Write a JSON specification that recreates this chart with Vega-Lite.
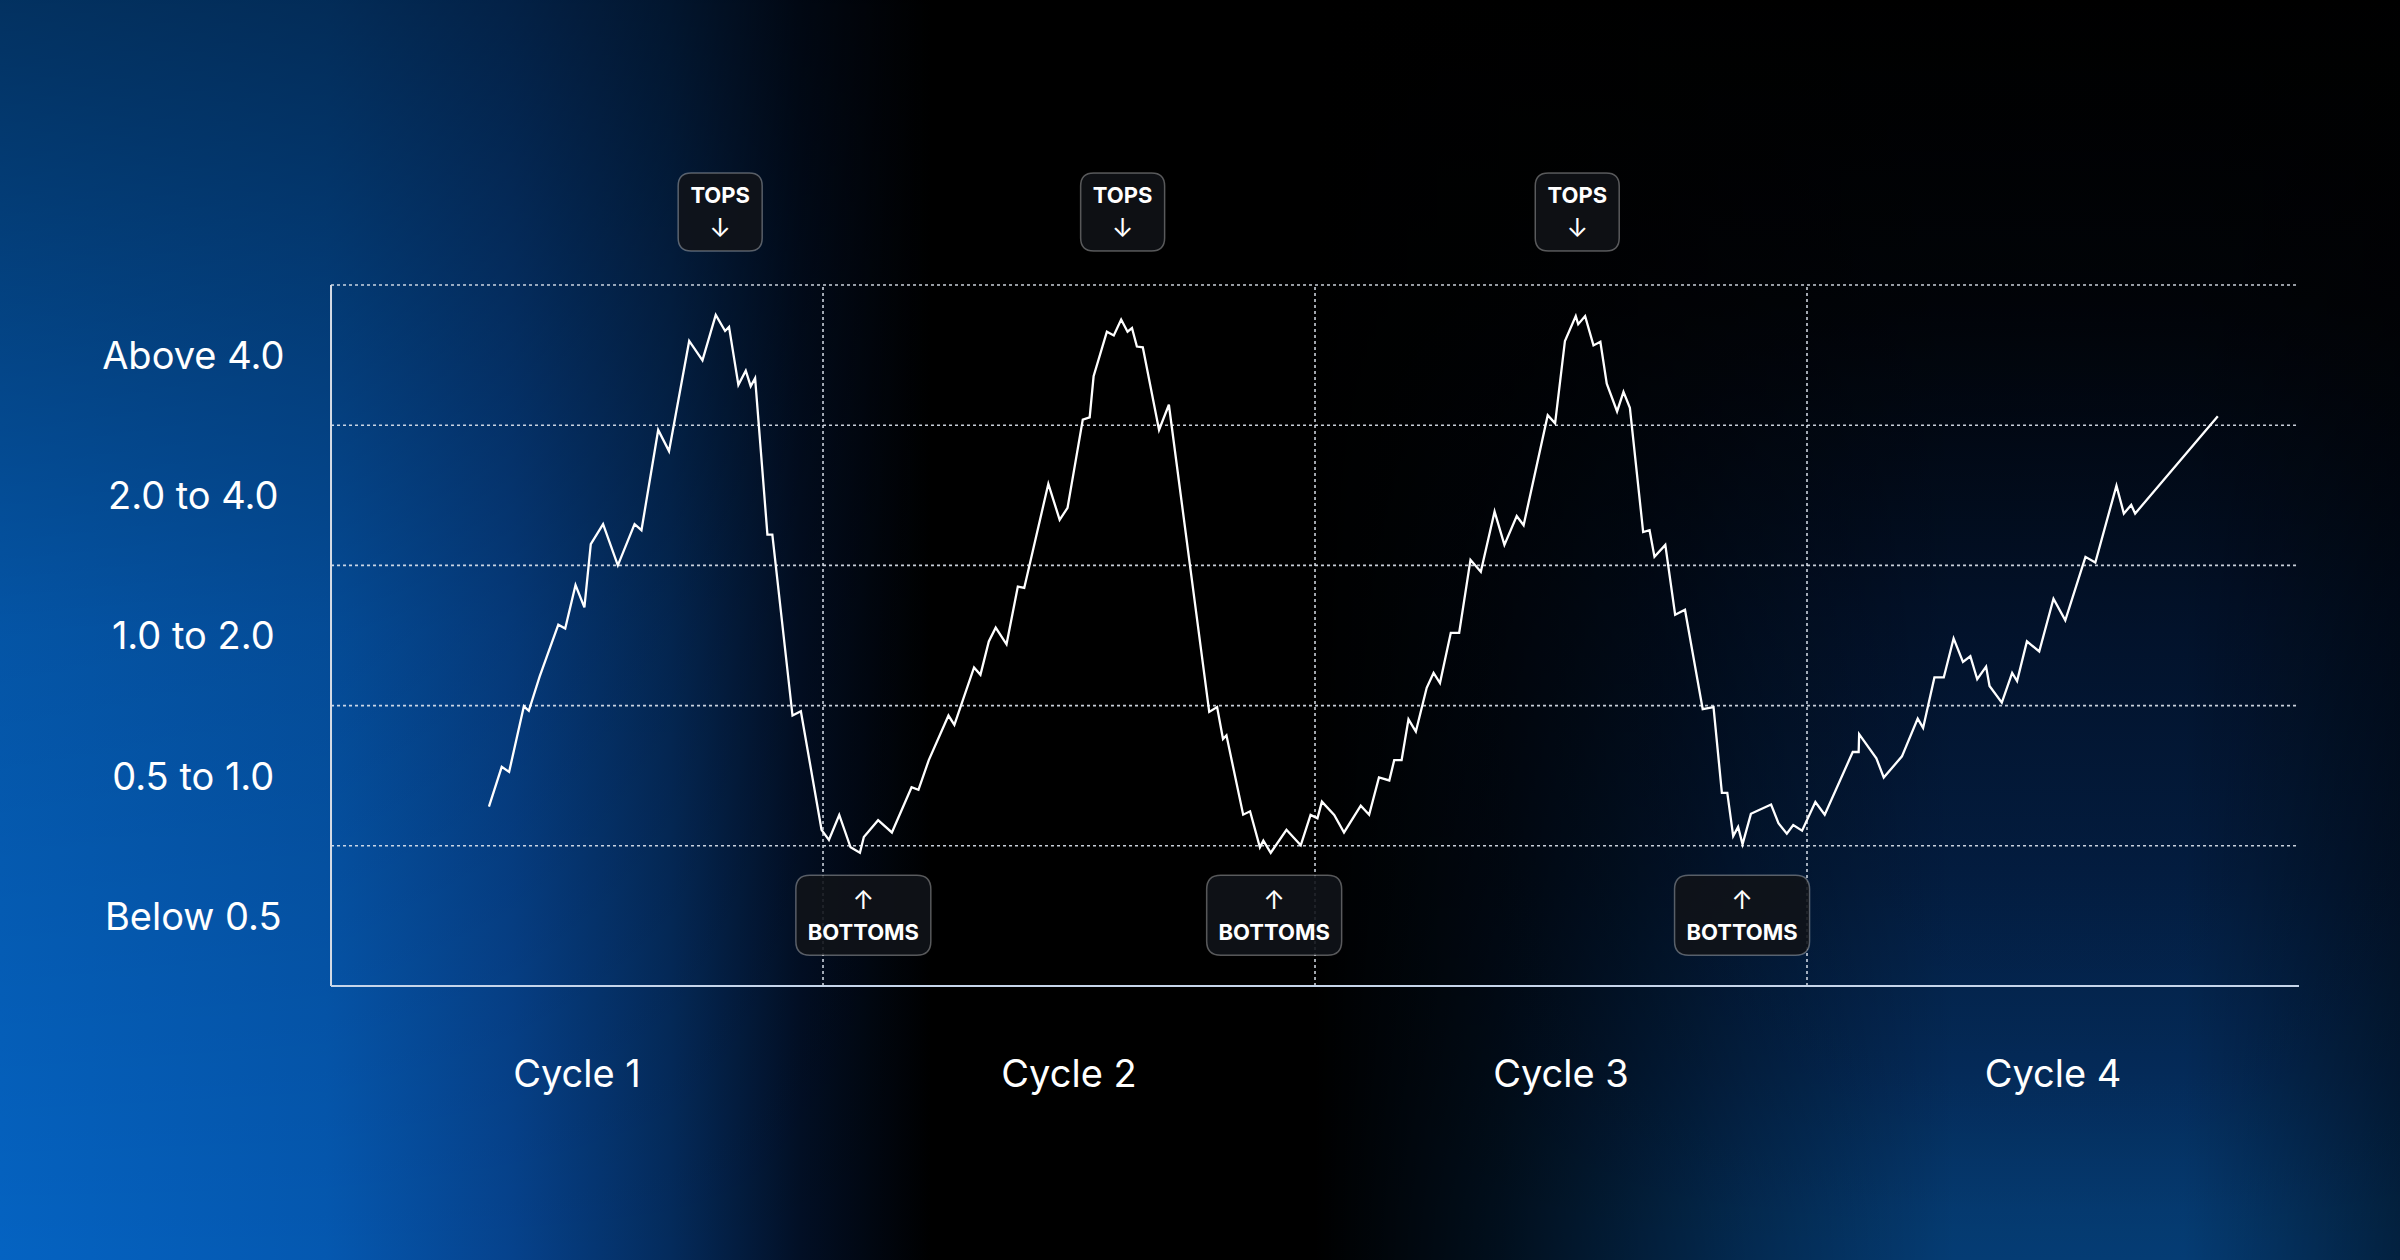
{
  "$schema": "https://vega.github.io/schema/vega-lite/v6.json",
  "width": 2400,
  "height": 1260,
  "autosize": {"type": "fit", "contains": "padding"},
  "padding": 0,
  "background": "#000000",
  "datasets": {
    "one": [{"id": 1}],
    "line": [
      {"x": 0.321, "y": 1.280}, {"x": 0.347, "y": 1.563}, {"x": 0.362, "y": 1.527}, {"x": 0.392, "y": 1.995},
      {"x": 0.402, "y": 1.963}, {"x": 0.424, "y": 2.206}, {"x": 0.428, "y": 2.246}, {"x": 0.462, "y": 2.577},
      {"x": 0.476, "y": 2.550}, {"x": 0.497, "y": 2.860}, {"x": 0.515, "y": 2.701}, {"x": 0.528, "y": 3.151},
      {"x": 0.553, "y": 3.294}, {"x": 0.583, "y": 3.000}, {"x": 0.617, "y": 3.294}, {"x": 0.631, "y": 3.251},
      {"x": 0.665, "y": 3.966}, {"x": 0.687, "y": 3.815}, {"x": 0.728, "y": 4.601}, {"x": 0.755, "y": 4.463},
      {"x": 0.782, "y": 4.786}, {"x": 0.801, "y": 4.672}, {"x": 0.809, "y": 4.701}, {"x": 0.828, "y": 4.288},
      {"x": 0.843, "y": 4.389}, {"x": 0.853, "y": 4.278}, {"x": 0.862, "y": 4.336}, {"x": 0.887, "y": 3.220},
      {"x": 0.897, "y": 3.220}, {"x": 0.938, "y": 1.929}, {"x": 0.955, "y": 1.960}, {"x": 0.997, "y": 1.114},
      {"x": 1.012, "y": 1.042}, {"x": 1.033, "y": 1.220}, {"x": 1.056, "y": 0.989}, {"x": 1.075, "y": 0.950},
      {"x": 1.083, "y": 1.063}, {"x": 1.112, "y": 1.183}, {"x": 1.140, "y": 1.095}, {"x": 1.180, "y": 1.418},
      {"x": 1.194, "y": 1.399}, {"x": 1.215, "y": 1.611}, {"x": 1.255, "y": 1.929}, {"x": 1.267, "y": 1.862},
      {"x": 1.307, "y": 2.272}, {"x": 1.320, "y": 2.220}, {"x": 1.337, "y": 2.458}, {"x": 1.351, "y": 2.556},
      {"x": 1.373, "y": 2.437}, {"x": 1.396, "y": 2.849}, {"x": 1.409, "y": 2.839}, {"x": 1.458, "y": 3.582},
      {"x": 1.481, "y": 3.325}, {"x": 1.497, "y": 3.410}, {"x": 1.528, "y": 4.040}, {"x": 1.542, "y": 4.056},
      {"x": 1.550, "y": 4.349}, {"x": 1.577, "y": 4.667}, {"x": 1.591, "y": 4.640}, {"x": 1.606, "y": 4.754},
      {"x": 1.619, "y": 4.667}, {"x": 1.628, "y": 4.693}, {"x": 1.638, "y": 4.561}, {"x": 1.650, "y": 4.556},
      {"x": 1.683, "y": 3.966}, {"x": 1.703, "y": 4.146}, {"x": 1.785, "y": 1.955}, {"x": 1.801, "y": 1.989},
      {"x": 1.813, "y": 1.762}, {"x": 1.820, "y": 1.788}, {"x": 1.854, "y": 1.222}, {"x": 1.868, "y": 1.246},
      {"x": 1.888, "y": 0.989}, {"x": 1.895, "y": 1.037}, {"x": 1.910, "y": 0.950}, {"x": 1.942, "y": 1.114},
      {"x": 1.971, "y": 1.003}, {"x": 1.991, "y": 1.220}, {"x": 2.005, "y": 1.196}, {"x": 2.014, "y": 1.315},
      {"x": 2.039, "y": 1.220}, {"x": 2.059, "y": 1.095}, {"x": 2.093, "y": 1.286}, {"x": 2.110, "y": 1.222},
      {"x": 2.130, "y": 1.487}, {"x": 2.151, "y": 1.466}, {"x": 2.161, "y": 1.611}, {"x": 2.176, "y": 1.611},
      {"x": 2.190, "y": 1.902}, {"x": 2.205, "y": 1.815}, {"x": 2.227, "y": 2.127}, {"x": 2.241, "y": 2.233},
      {"x": 2.254, "y": 2.161}, {"x": 2.276, "y": 2.519}, {"x": 2.293, "y": 2.519}, {"x": 2.316, "y": 3.040},
      {"x": 2.337, "y": 2.955}, {"x": 2.365, "y": 3.384}, {"x": 2.385, "y": 3.146}, {"x": 2.410, "y": 3.352},
      {"x": 2.424, "y": 3.286}, {"x": 2.473, "y": 4.071}, {"x": 2.488, "y": 4.013}, {"x": 2.508, "y": 4.601},
      {"x": 2.530, "y": 4.778}, {"x": 2.535, "y": 4.720}, {"x": 2.549, "y": 4.778}, {"x": 2.566, "y": 4.569},
      {"x": 2.580, "y": 4.595}, {"x": 2.593, "y": 4.296}, {"x": 2.614, "y": 4.098}, {"x": 2.627, "y": 4.238},
      {"x": 2.640, "y": 4.124}, {"x": 2.667, "y": 3.238}, {"x": 2.680, "y": 3.251}, {"x": 2.690, "y": 3.061},
      {"x": 2.712, "y": 3.146}, {"x": 2.732, "y": 2.648}, {"x": 2.752, "y": 2.683}, {"x": 2.788, "y": 1.974},
      {"x": 2.810, "y": 1.989}, {"x": 2.827, "y": 1.378}, {"x": 2.838, "y": 1.378}, {"x": 2.850, "y": 1.069},
      {"x": 2.860, "y": 1.135}, {"x": 2.869, "y": 1.011}, {"x": 2.886, "y": 1.228}, {"x": 2.927, "y": 1.294},
      {"x": 2.942, "y": 1.161}, {"x": 2.959, "y": 1.087}, {"x": 2.972, "y": 1.148}, {"x": 2.990, "y": 1.108},
      {"x": 3.017, "y": 1.312}, {"x": 3.036, "y": 1.222}, {"x": 3.093, "y": 1.669}, {"x": 3.105, "y": 1.669},
      {"x": 3.106, "y": 1.796}, {"x": 3.141, "y": 1.624}, {"x": 3.156, "y": 1.487}, {"x": 3.193, "y": 1.638},
      {"x": 3.225, "y": 1.907}, {"x": 3.236, "y": 1.841}, {"x": 3.259, "y": 2.201}, {"x": 3.278, "y": 2.201},
      {"x": 3.298, "y": 2.479}, {"x": 3.317, "y": 2.312}, {"x": 3.332, "y": 2.352}, {"x": 3.346, "y": 2.188},
      {"x": 3.364, "y": 2.278}, {"x": 3.371, "y": 2.140}, {"x": 3.396, "y": 2.021}, {"x": 3.417, "y": 2.233},
      {"x": 3.427, "y": 2.175}, {"x": 3.447, "y": 2.458}, {"x": 3.472, "y": 2.386}, {"x": 3.501, "y": 2.762},
      {"x": 3.525, "y": 2.608}, {"x": 3.566, "y": 3.061}, {"x": 3.586, "y": 3.021}, {"x": 3.629, "y": 3.569},
      {"x": 3.644, "y": 3.370}, {"x": 3.659, "y": 3.431}, {"x": 3.667, "y": 3.370}, {"x": 3.835, "y": 4.063}
    ],
    "hgrid": [{"level": 1}, {"level": 2}, {"level": 3}, {"level": 4}, {"level": 5}],
    "vgrid": [{"edge": 1}, {"edge": 2}, {"edge": 3}],
    "bands": [
      {"label": "Below 0.5", "mid": 0.5},
      {"label": "0.5 to 1.0", "mid": 1.5},
      {"label": "1.0 to 2.0", "mid": 2.5},
      {"label": "2.0 to 4.0", "mid": 3.5},
      {"label": "Above 4.0", "mid": 4.5}
    ],
    "cycles": [
      {"label": "Cycle 1", "mid": 0.5},
      {"label": "Cycle 2", "mid": 1.5},
      {"label": "Cycle 3", "mid": 2.5},
      {"label": "Cycle 4", "mid": 3.5}
    ],
    "tops": [{"x": 0.791}, {"x": 1.609}, {"x": 2.533}],
    "bottoms": [{"x": 1.082}, {"x": 1.917}, {"x": 2.868}]
  },
  "layer": [
    {
      "data": {"name": "one"},
      "mark": {
        "type": "rect",
        "clip": true,
        "fill": {
          "gradient": "linear", "x1": 0, "y1": 0, "x2": 1, "y2": 0,
          "stops": [
            {"offset": 0, "color": "#0563c2"},
            {"offset": 0.35, "color": "#0558b0"},
            {"offset": 0.55, "color": "#06428c"},
            {"offset": 0.72, "color": "#042b5c"},
            {"offset": 0.86, "color": "#020f25"},
            {"offset": 1, "color": "#000000"}
          ]
        }
      },
      "encoding": {
        "x": {"datum": -0.673, "type": "quantitative", "scale": {"domain": [-0.6728, 4.2053], "nice": false, "zero": false}},
        "x2": {"datum": 1.22}
      }
    },
    {
      "data": {"name": "one"},
      "mark": {
        "type": "rect",
        "clip": true,
        "fill": {
          "gradient": "linear", "x1": 0, "y1": 0, "x2": 0, "y2": 1,
          "stops": [
            {"offset": 0, "color": "#000000"},
            {"offset": 0.24, "color": "#01050c"},
            {"offset": 0.48, "color": "#021430"},
            {"offset": 0.69, "color": "#031f45"},
            {"offset": 0.85, "color": "#042c5c"},
            {"offset": 0.96, "color": "#053a70"},
            {"offset": 1, "color": "#053c74"}
          ]
        }
      },
      "encoding": {
        "x": {"datum": 2.0, "type": "quantitative"},
        "x2": {"datum": 4.3}
      }
    },
    {
      "data": {"name": "one"},
      "mark": {
        "type": "rect",
        "clip": true,
        "fill": {
          "gradient": "linear", "x1": 0, "y1": 0, "x2": 1, "y2": 0,
          "stops": [
            {"offset": 0, "color": "rgba(0,0,0,1)"},
            {"offset": 0.17, "color": "rgba(0,0,0,0.75)"},
            {"offset": 0.4, "color": "rgba(0,0,0,0.3)"},
            {"offset": 0.59, "color": "rgba(0,0,0,0)"},
            {"offset": 0.8, "color": "rgba(0,0,0,0)"},
            {"offset": 1, "color": "rgba(0,0,0,0.45)"}
          ]
        }
      },
      "encoding": {
        "x": {"datum": 2.0, "type": "quantitative"},
        "x2": {"datum": 4.2053}
      }
    },
    {
      "data": {"name": "one"},
      "mark": {
        "type": "rect",
        "fill": {
          "gradient": "linear", "x1": 0, "y1": 0, "x2": 0, "y2": 1,
          "stops": [
            {"offset": 0, "color": "rgba(0,0,0,0.5)"},
            {"offset": 0.5, "color": "rgba(0,0,0,0.15)"},
            {"offset": 1, "color": "rgba(0,0,0,0)"}
          ]
        }
      },
      "encoding": {}
    },
    {
      "data": {"name": "hgrid"},
      "mark": {"type": "rule", "color": "#dfe6f0", "strokeWidth": 1.6, "strokeDash": [3, 3], "opacity": 0.9},
      "encoding": {
        "y": {"field": "level", "type": "quantitative", "scale": {"domain": [-1.9544, 7.0328], "nice": false, "zero": false}},
        "x": {"datum": 0},
        "x2": {"datum": 4}
      }
    },
    {
      "data": {"name": "vgrid"},
      "mark": {"type": "rule", "color": "#dfe6f0", "strokeWidth": 1.6, "strokeDash": [3, 3], "opacity": 0.9},
      "encoding": {
        "x": {"field": "edge", "type": "quantitative"},
        "y": {"datum": 0},
        "y2": {"datum": 5}
      }
    },
    {
      "data": {"name": "one"},
      "mark": {"type": "rule", "color": "#d5dbe5", "strokeWidth": 2},
      "encoding": {"x": {"datum": 0}, "y": {"datum": 0}, "y2": {"datum": 5}}
    },
    {
      "data": {"name": "one"},
      "mark": {"type": "rule", "color": "#c6d5ea", "strokeWidth": 2.2},
      "encoding": {"y": {"datum": 0}, "x": {"datum": 0}, "x2": {"datum": 4}}
    },
    {
      "data": {"name": "line"},
      "mark": {"type": "line", "color": "#ffffff", "strokeWidth": 2.3, "strokeJoin": "miter", "strokeMiterLimit": 4},
      "encoding": {
        "x": {"field": "x", "type": "quantitative", "scale": {"domain": [-0.6728, 4.2053], "nice": false, "zero": false}},
        "y": {"field": "y", "type": "quantitative", "scale": {"domain": [-1.9544, 7.0328], "nice": false, "zero": false}}
      }
    },
    {
      "data": {"name": "tops"},
      "mark": {
        "type": "point",
        "filled": true,
        "size": 7056,
        "shape": "M -0.69 -0.929 L 0.69 -0.929 Q 1 -0.929 1 -0.619 L 1 0.619 Q 1 0.929 0.69 0.929 L -0.69 0.929 Q -1 0.929 -1 0.619 L -1 -0.619 Q -1 -0.929 -0.69 -0.929 Z",
        "fill": "#101318",
        "fillOpacity": 0.85,
        "stroke": "#ffffff",
        "strokeOpacity": 0.33,
        "strokeWidth": 1.5,
        "opacity": 1
      },
      "encoding": {"x": {"field": "x", "type": "quantitative"}, "y": {"datum": 5.52}}
    },
    {
      "data": {"name": "bottoms"},
      "mark": {
        "type": "point",
        "filled": true,
        "size": 18225,
        "shape": "M -0.793 -0.593 L 0.793 -0.593 Q 1 -0.593 1 -0.386 L 1 0.386 Q 1 0.593 0.793 0.593 L -0.793 0.593 Q -1 0.593 -1 0.386 L -1 -0.386 Q -1 -0.593 -0.793 -0.593 Z",
        "fill": "#101318",
        "fillOpacity": 0.9,
        "stroke": "#ffffff",
        "strokeOpacity": 0.33,
        "strokeWidth": 1.5,
        "opacity": 1
      },
      "encoding": {"x": {"field": "x", "type": "quantitative"}, "y": {"datum": 0.505}}
    },
    {
      "data": {"name": "tops"},
      "mark": {"type": "text", "text": "TOPS", "font": "Inter", "fontWeight": 700, "fontSize": 22, "color": "#ffffff", "dy": -16, "baseline": "middle"},
      "encoding": {"x": {"field": "x", "type": "quantitative"}, "y": {"datum": 5.52}}
    },
    {
      "data": {"name": "tops"},
      "mark": {"type": "text", "text": "↓", "font": "Inter", "fontSize": 26, "color": "#ffffff", "dy": 17, "baseline": "middle"},
      "encoding": {"x": {"field": "x", "type": "quantitative"}, "y": {"datum": 5.52}}
    },
    {
      "data": {"name": "bottoms"},
      "mark": {"type": "text", "text": "↑", "font": "Inter", "fontSize": 26, "color": "#ffffff", "dy": -14, "baseline": "middle"},
      "encoding": {"x": {"field": "x", "type": "quantitative"}, "y": {"datum": 0.505}}
    },
    {
      "data": {"name": "bottoms"},
      "mark": {"type": "text", "text": "BOTTOMS", "font": "Inter", "fontWeight": 700, "fontSize": 22, "color": "#ffffff", "dy": 18, "baseline": "middle"},
      "encoding": {"x": {"field": "x", "type": "quantitative"}, "y": {"datum": 0.505}}
    },
    {
      "data": {"name": "bands"},
      "mark": {"type": "text", "font": "Inter", "fontSize": 38, "color": "#ffffff", "align": "center", "baseline": "middle", "dy": 3},
      "encoding": {
        "text": {"field": "label"},
        "x": {"datum": -0.28},
        "y": {"field": "mid", "type": "quantitative"}
      }
    },
    {
      "data": {"name": "cycles"},
      "mark": {"type": "text", "font": "Inter", "fontSize": 38, "color": "#ffffff", "align": "center", "baseline": "middle", "dy": 3},
      "encoding": {
        "text": {"field": "label"},
        "x": {"field": "mid", "type": "quantitative"},
        "y": {"datum": -0.62}
      }
    }
  ],
  "config": {
    "view": {"stroke": null},
    "axis": {"disable": true},
    "font": "Inter"
  }
}
